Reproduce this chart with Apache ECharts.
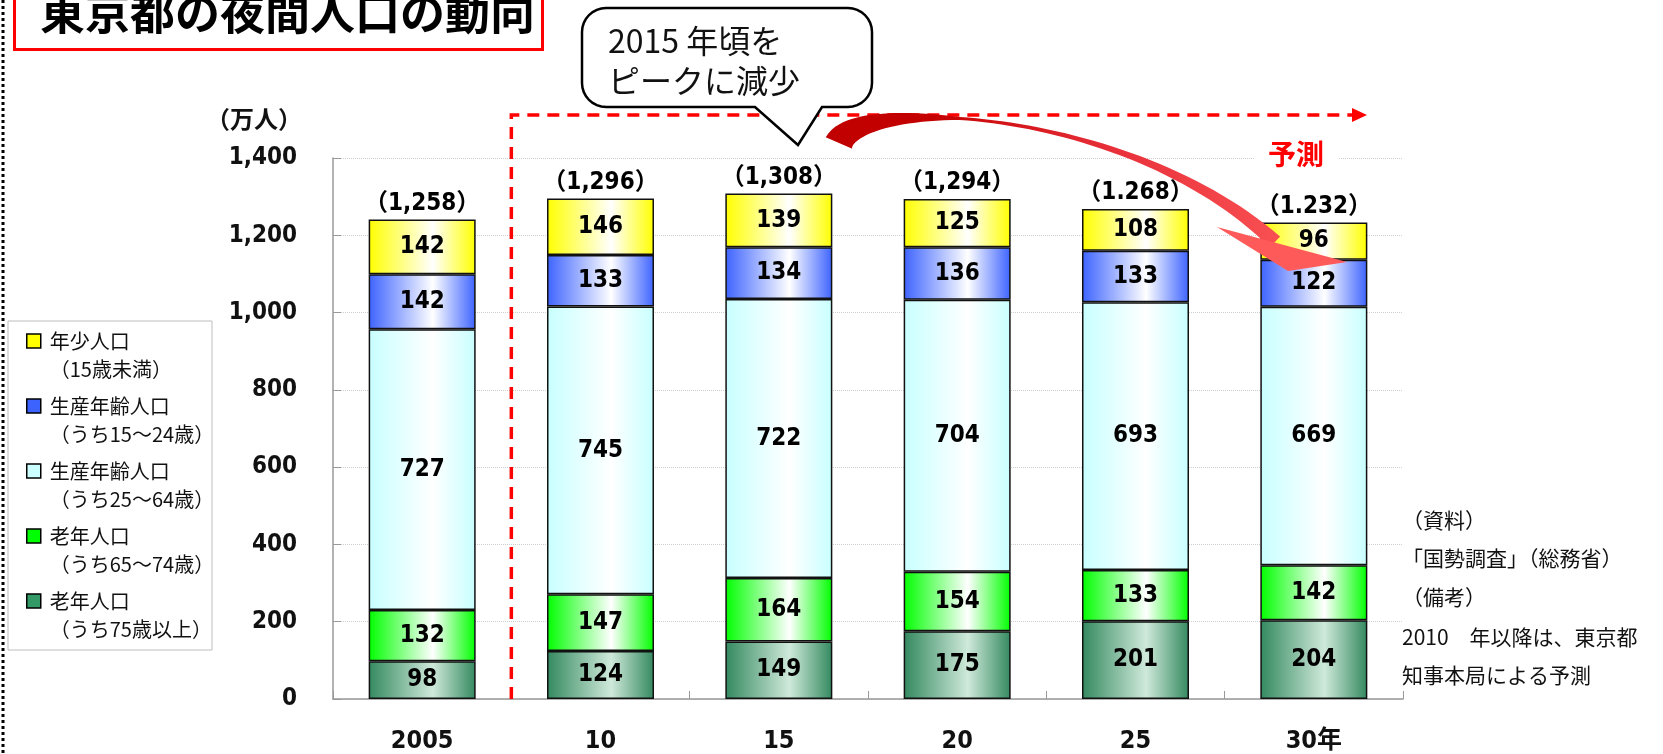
<!DOCTYPE html>
<html>
<head>
<meta charset="utf-8">
<title>東京都の夜間人口の動向</title>
<script src="https://cdn.jsdelivr.net/npm/echarts@6/dist/echarts.min.js"></script>
<style>
  html, body { margin: 0; padding: 0; background: #fff; }
  #main { width: 1663px; height: 754px; }
</style>
</head>
<body>
<div id="main"></div>
<script>
// 年次（2010年以降は予測）
const categories = ['2005', '10', '15', '20', '25', '30年']
// 万人
const youngPop = [142, 146, 139, 125, 108, 96]
const work15to24 = [142, 133, 134, 136, 133, 122]
const work25to64 = [727, 745, 722, 704, 693, 669]
const old65to74 = [132, 147, 164, 154, 133, 142]
const old75plus = [98, 124, 149, 175, 201, 204]
// 総数（表記は元図のまま）
const totalLabels = ['1,258', '1,296', '1,308', '1,294', '1.268', '1.232']
const yMax = 1400
const yStep = 200

const legendNames = [
  '年少人口\n（15歳未満）',
  '生産年齢人口\n（うち15～24歳）',
  '生産年齢人口\n（うち25～64歳）',
  '老年人口\n（うち65～74歳）',
  '老年人口\n（うち75歳以上）'
]
const legendColors = ['#ffff00', '#3d63ff', '#ccffff', '#00ff00', '#339966']

const numFont = '"DejaVu Sans Condensed", "DejaVu Sans", "Noto Sans CJK JP", sans-serif'
const jpFont = '"Noto Sans CJK JP", sans-serif'

const chart = echarts.init(document.getElementById('main'))

function barFill(edge, mid) {
  return new echarts.graphic.LinearGradient(0, 0, 1, 0, [
    { offset: 0, color: edge },
    { offset: 0.6, color: mid },
    { offset: 1, color: edge }
  ])
}

function layer(name, data, edge, mid) {
  return {
    name: name,
    type: 'bar',
    stack: 'pop',
    data: data,
    barWidth: '60%',
    itemStyle: { color: barFill(edge, mid), borderColor: '#111', borderWidth: 1.5 },
    label: {
      show: true,
      position: 'inside',
      color: '#000',
      fontFamily: numFont,
      fontSize: 24,
      fontWeight: 'bold'
    },
    emphasis: { disabled: true }
  }
}

const option = {
  animation: false,
  backgroundColor: '#fff',
  title: {
    text: '東京都の夜間人口の動向',
    left: 14,
    top: -12,
    padding: [2, 8, 14, 26],
    borderColor: '#ff0000',
    borderWidth: 3,
    textStyle: { fontFamily: jpFont, fontSize: 45, fontWeight: 'bold', color: '#000', lineHeight: 46 }
  },
  grid: { left: 333, right: 260, top: 158, bottom: 54 },
  legend: {
    orient: 'vertical',
    left: 26,
    top: 299,
    padding: 0,
    icon: 'rect',
    itemWidth: 14,
    itemHeight: 14,
    itemGap: -19,
    selectedMode: false,
    // 先頭に空行を入れて1行目をマーカーの高さに揃える
    formatter: name => '\n' + name,
    data: legendNames.map((n, i) => ({
      name: n,
      itemStyle: { color: legendColors[i], borderColor: '#000', borderWidth: 1.5 }
    })),
    textStyle: { fontFamily: jpFont, fontSize: 20, color: '#111', lineHeight: 28, padding: [0, 0, 0, 4] }
  },
  xAxis: {
    type: 'category',
    data: categories,
    axisLine: { lineStyle: { color: '#999', width: 1.5 } },
    axisTick: { show: true, inside: true, length: 8, lineStyle: { color: '#999' } },
    axisLabel: { margin: 30, fontFamily: numFont, fontSize: 25, fontWeight: 'bold', color: '#111' }
  },
  yAxis: {
    type: 'value',
    min: 0,
    max: yMax,
    interval: yStep,
    name: '（万人）',
    nameLocation: 'end',
    nameGap: 39,
    nameTextStyle: {
      fontFamily: jpFont, fontSize: 24, fontWeight: 'bold', color: '#111',
      align: 'right', verticalAlign: 'middle', padding: [0, 31, 0, 0]
    },
    axisLine: { show: true, lineStyle: { color: '#999', width: 1.5 } },
    axisTick: { show: true, inside: true, length: 8, lineStyle: { color: '#999' } },
    splitLine: { lineStyle: { color: '#cfcfcf', type: 'dotted' } },
    axisLabel: {
      margin: 36,
      formatter: v => v.toLocaleString('en-US'),
      fontFamily: numFont, fontSize: 24, fontWeight: 'bold', color: '#111'
    }
  },
  series: [
    layer(legendNames[4], old75plus, '#33895f', '#cfe9da'),
    layer(legendNames[3], old65to74, '#00ff00', '#ffffff'),
    layer(legendNames[2], work25to64, '#c8ffff', '#ffffff'),
    layer(legendNames[1], work15to24, '#3d63ff', '#ffffff'),
    layer(legendNames[0], youngPop, '#ffff00', '#ffffff'),
    {
      name: 'total',
      type: 'bar',
      stack: 'pop',
      data: categories.map(() => 0),
      barWidth: '60%',
      itemStyle: { color: 'transparent', borderWidth: 0 },
      label: {
        show: true,
        position: 'top',
        distance: 4,
        formatter: p => '（' + totalLabels[p.dataIndex] + '）',
        color: '#000',
        fontFamily: numFont,
        fontSize: 24,
        fontWeight: 'bold'
      },
      emphasis: { disabled: true }
    }
  ]
}

chart.setOption(option)

// 注記（破線・吹き出し・矢印など）
const xa = chart.convertToPixel({ xAxisIndex: 0 }, categories[0])
const xb = chart.convertToPixel({ xAxisIndex: 0 }, categories[1])
const splitX = (xa + xb) / 2
const y0 = chart.convertToPixel({ yAxisIndex: 0 }, 0)
const dashY = 115

// speech bubble outline (rounded box + tail)
function arcPts(cx, cy, r, a0, a1) {
  const pts = []
  for (let i = 0; i <= 8; i++) {
    const a = (a0 + (a1 - a0) * i / 8) * Math.PI / 180
    pts.push([cx + r * Math.cos(a), cy + r * Math.sin(a)])
  }
  return pts
}
const bx0 = 582, by0 = 8, bx1 = 872, by1 = 107, br = 24
const bubblePts = [].concat(
  arcPts(bx1 - br, by0 + br, br, -90, 0),
  arcPts(bx1 - br, by1 - br, br, 0, 90),
  [[822, by1], [798, 145], [755, by1]],
  arcPts(bx0 + br, by1 - br, br, 90, 180),
  arcPts(bx0 + br, by0 + br, br, 180, 270)
)

// curved arrow shaft: tapered cubic bezier
const S = [839, 143], C1 = [860, 95], C2 = [1130, 108], E = [1275, 242]
function bez(t) {
  const u = 1 - t
  return [
    u * u * u * S[0] + 3 * u * u * t * C1[0] + 3 * u * t * t * C2[0] + t * t * t * E[0],
    u * u * u * S[1] + 3 * u * u * t * C1[1] + 3 * u * t * t * C2[1] + t * t * t * E[1]
  ]
}
function bezD(t) {
  const u = 1 - t
  return [
    3 * u * u * (C1[0] - S[0]) + 6 * u * t * (C2[0] - C1[0]) + 3 * t * t * (E[0] - C2[0]),
    3 * u * u * (C1[1] - S[1]) + 6 * u * t * (C2[1] - C1[1]) + 3 * t * t * (E[1] - C2[1])
  ]
}
function shaftWidth(t) {
  if (t < 0.4) return 3 + 26 * (1 - t / 0.4)
  const k = (t - 0.4) / 0.6
  return 3 + 12 * k * k
}
const upper = [], lower = []
for (let i = 0; i <= 60; i++) {
  const t = i / 60
  const c = bez(t), d = bezD(t)
  const len = Math.hypot(d[0], d[1])
  const n = [-d[1] / len, d[0] / len]
  const w = shaftWidth(t) / 2
  upper.push([c[0] + n[0] * w, c[1] + n[1] * w])
  lower.push([c[0] - n[0] * w, c[1] - n[1] * w])
}
const shaftPts = upper.concat(lower.reverse())

function note(text, y) {
  return {
    type: 'text', x: 1402, y: y,
    style: { text: text, fontFamily: jpFont, fontSize: 21, fill: '#111', verticalAlign: 'middle' }
  }
}

chart.setOption({
  graphic: [
    // left dotted frame
    {
      type: 'line', z: 50,
      shape: { x1: 3, y1: 0, x2: 3, y2: 754 },
      style: { stroke: '#000', lineWidth: 3, lineDash: [3, 3] }
    },
    // legend frame
    {
      type: 'rect', z: 1,
      shape: { x: 8, y: 321, width: 204, height: 329 },
      style: { fill: null, stroke: '#bdbdbd', lineWidth: 1 }
    },
    // forecast dashed line
    {
      type: 'polyline', z: 10,
      shape: { points: [[splitX, y0], [splitX, dashY], [1354, dashY]] },
      style: { stroke: '#ff0000', lineWidth: 3.5, lineDash: [12, 8], fill: null }
    },
    {
      type: 'polygon', z: 10,
      shape: { points: [[1352, dashY - 7], [1367, dashY], [1352, dashY + 7]] },
      style: { fill: '#ff0000' }
    },
    {
      type: 'text', z: 10,
      x: 1296, y: 154,
      style: {
        text: '予測', fill: '#ff0000', fontFamily: jpFont, fontSize: 28, fontWeight: 'bold',
        align: 'center', verticalAlign: 'middle', backgroundColor: '#fff', padding: [2, 14]
      }
    },
    // speech bubble
    {
      type: 'polygon', z: 20,
      shape: { points: bubblePts },
      style: { fill: '#fff', stroke: '#000', lineWidth: 2.5, lineJoin: 'miter' }
    },
    {
      type: 'text', z: 21,
      x: 608, y: 61,
      style: {
        text: '2015 年頃を\nピークに減少', fill: '#111', fontFamily: jpFont, fontSize: 32,
        lineHeight: 40, verticalAlign: 'middle', align: 'left'
      }
    },
    // curved arrow
    {
      type: 'polygon', z: 30,
      shape: { points: shaftPts },
      style: {
        fill: {
          type: 'linear', x: 824, y: 0, x2: 1347, y2: 0, global: true,
          colorStops: [
            { offset: 0, color: '#c00000' },
            { offset: 0.2, color: '#c40000' },
            { offset: 0.55, color: '#e8303a' },
            { offset: 1, color: '#ff5c5c' }
          ]
        }
      }
    },
    {
      type: 'polygon', z: 30,
      shape: { points: [[1217, 227], [1347, 262], [1288, 271]] },
      style: { fill: '#ff5a5a' }
    },
    // notes
    note('（資料）', 520),
    note('「国勢調査」（総務省）', 558),
    note('（備考）', 597),
    note('2010　年以降は、東京都', 637),
    note('知事本局による予測', 675)
  ]
})

window.addEventListener('resize', () => chart.resize())
</script>
</body>
</html>
